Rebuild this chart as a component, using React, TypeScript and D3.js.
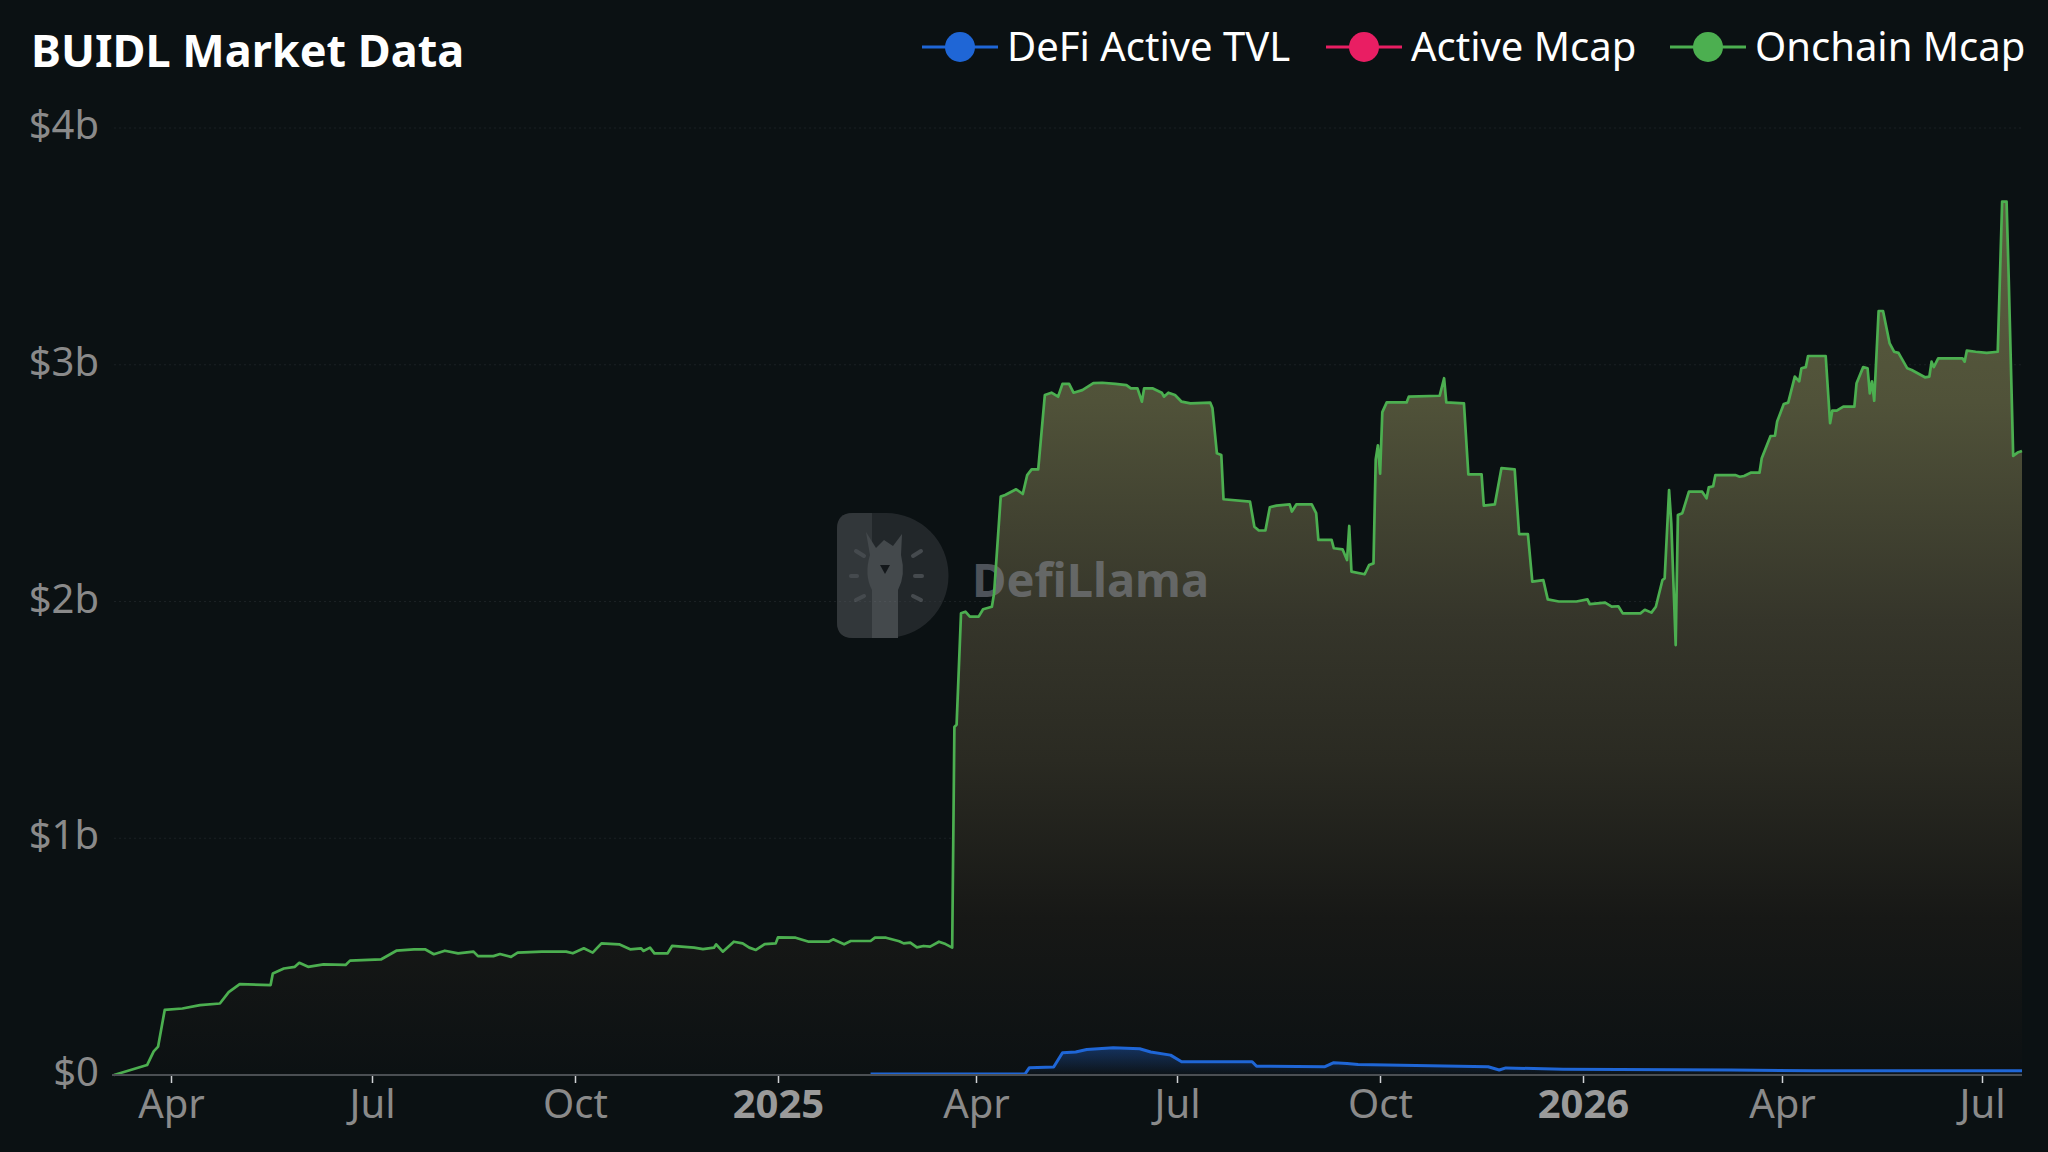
import React from 'react';
import * as d3 from 'd3';

// Onchain Mcap (BUIDL), in billions of USD
const onchainDates = [
  '2024-03-06', '2024-03-21', '2024-03-24', '2024-03-26', '2024-03-29', '2024-04-06', '2024-04-14', '2024-04-23',
  '2024-04-27', '2024-05-02', '2024-05-16', '2024-05-17', '2024-05-22', '2024-05-27', '2024-05-29', '2024-06-02',
  '2024-06-09', '2024-06-19', '2024-06-21', '2024-07-05', '2024-07-12', '2024-07-20', '2024-07-25', '2024-07-29',
  '2024-08-03', '2024-08-09', '2024-08-16', '2024-08-18', '2024-08-25', '2024-08-28', '2024-09-02', '2024-09-05',
  '2024-09-16', '2024-09-27', '2024-09-30', '2024-10-05', '2024-10-09', '2024-10-13', '2024-10-21', '2024-10-26',
  '2024-10-31', '2024-11-01', '2024-11-04', '2024-11-06', '2024-11-12', '2024-11-14', '2024-11-24', '2024-11-28',
  '2024-12-03', '2024-12-04', '2024-12-07', '2024-12-12', '2024-12-16', '2024-12-19', '2024-12-22', '2024-12-26',
  '2024-12-31', '2025-01-01', '2025-01-09', '2025-01-15', '2025-01-24', '2025-01-26', '2025-01-31', '2025-02-03',
  '2025-02-12', '2025-02-14', '2025-02-19', '2025-02-25', '2025-02-27', '2025-03-02', '2025-03-05', '2025-03-08',
  '2025-03-11', '2025-03-15', '2025-03-18', '2025-03-21', '2025-03-22', '2025-03-23', '2025-03-25', '2025-03-27',
  '2025-03-29', '2025-04-02', '2025-04-04', '2025-04-08', '2025-04-09', '2025-04-12', '2025-04-14', '2025-04-19',
  '2025-04-22', '2025-04-24', '2025-04-26', '2025-04-29', '2025-05-02', '2025-05-05', '2025-05-08', '2025-05-10',
  '2025-05-13', '2025-05-15', '2025-05-19', '2025-05-24', '2025-05-28', '2025-06-03', '2025-06-08', '2025-06-10',
  '2025-06-13', '2025-06-15', '2025-06-16', '2025-06-20', '2025-06-24', '2025-06-25', '2025-06-27', '2025-06-30',
  '2025-07-03', '2025-07-07', '2025-07-16', '2025-07-17', '2025-07-19', '2025-07-21', '2025-07-22', '2025-08-03',
  '2025-08-05', '2025-08-07', '2025-08-10', '2025-08-12', '2025-08-15', '2025-08-21', '2025-08-22', '2025-08-24',
  '2025-08-31', '2025-09-02', '2025-09-03', '2025-09-09', '2025-09-10', '2025-09-14', '2025-09-16', '2025-09-17',
  '2025-09-18', '2025-09-24', '2025-09-26', '2025-09-28', '2025-09-29', '2025-09-30', '2025-10-01', '2025-10-02',
  '2025-10-04', '2025-10-13', '2025-10-14', '2025-10-28', '2025-10-30', '2025-10-31', '2025-11-08', '2025-11-10',
  '2025-11-16', '2025-11-17', '2025-11-22', '2025-11-25', '2025-12-01', '2025-12-03', '2025-12-07', '2025-12-09',
  '2025-12-14', '2025-12-16', '2025-12-21', '2025-12-29', '2026-01-03', '2026-01-04', '2026-01-11', '2026-01-14',
  '2026-01-17', '2026-01-19', '2026-01-27', '2026-01-29', '2026-02-01', '2026-02-03', '2026-02-06', '2026-02-07',
  '2026-02-09', '2026-02-10', '2026-02-12', '2026-02-13', '2026-02-15', '2026-02-18', '2026-02-24', '2026-02-26',
  '2026-02-27', '2026-03-01', '2026-03-02', '2026-03-11', '2026-03-13', '2026-03-15', '2026-03-18', '2026-03-22',
  '2026-03-23', '2026-03-27', '2026-03-29', '2026-03-30', '2026-04-02', '2026-04-04', '2026-04-07', '2026-04-09',
  '2026-04-10', '2026-04-12', '2026-04-13', '2026-04-21', '2026-04-23', '2026-04-24', '2026-04-26', '2026-04-29',
  '2026-05-04', '2026-05-05', '2026-05-08', '2026-05-10', '2026-05-11', '2026-05-12', '2026-05-13', '2026-05-15',
  '2026-05-17', '2026-05-20', '2026-05-22', '2026-05-24', '2026-05-28', '2026-05-30', '2026-06-05', '2026-06-07',
  '2026-06-08', '2026-06-09', '2026-06-11', '2026-06-22', '2026-06-23', '2026-06-24', '2026-06-28', '2026-07-03',
  '2026-07-08', '2026-07-10', '2026-07-12', '2026-07-13', '2026-07-15', '2026-07-17', '2026-07-19',
];
const onchainValues = [
  0, 0.042, 0.1, 0.12, 0.275, 0.281, 0.295, 0.302,
  0.35, 0.384, 0.38, 0.429, 0.45, 0.457, 0.474, 0.457,
  0.467, 0.465, 0.483, 0.488, 0.525, 0.531, 0.531, 0.51,
  0.525, 0.514, 0.521, 0.502, 0.502, 0.511, 0.499, 0.517,
  0.521, 0.521, 0.514, 0.535, 0.517, 0.556, 0.552, 0.531,
  0.535, 0.524, 0.538, 0.514, 0.514, 0.545, 0.538, 0.532,
  0.538, 0.552, 0.521, 0.563, 0.556, 0.538, 0.528, 0.553,
  0.556, 0.581, 0.58, 0.563, 0.563, 0.573, 0.552, 0.566,
  0.566, 0.58, 0.58, 0.565, 0.556, 0.559, 0.539, 0.545,
  0.542, 0.563, 0.553, 0.538, 1.47, 1.48, 1.95, 1.957,
  1.936, 1.936, 1.967, 1.978, 2.035, 2.443, 2.45, 2.474,
  2.454, 2.534, 2.558, 2.558, 2.872, 2.882, 2.865, 2.919,
  2.919, 2.882, 2.893, 2.922, 2.924, 2.919, 2.914, 2.9,
  2.9, 2.844, 2.9, 2.9, 2.882, 2.865, 2.882, 2.872,
  2.844, 2.837, 2.84, 2.816, 2.626, 2.619, 2.432, 2.422,
  2.316, 2.3, 2.3, 2.398, 2.405, 2.41, 2.38, 2.41,
  2.41, 2.373, 2.26, 2.26, 2.225, 2.22, 2.175, 2.319,
  2.126, 2.115, 2.154, 2.161, 2.6, 2.66, 2.54, 2.8,
  2.841, 2.841, 2.865, 2.869, 2.943, 2.841, 2.837, 2.537,
  2.537, 2.405, 2.41, 2.563, 2.558, 2.285, 2.285, 2.084,
  2.09, 2.009, 2.0, 2.0, 2.009, 1.989, 1.995, 1.978,
  1.98, 1.95, 1.95, 1.965, 1.953, 1.978, 2.091, 2.098,
  2.471, 2.33, 1.816, 2.365, 2.373, 2.464, 2.464, 2.436,
  2.482, 2.487, 2.534, 2.534, 2.527, 2.53, 2.544, 2.544,
  2.605, 2.699, 2.7, 2.76, 2.834, 2.84, 2.95, 2.93,
  2.985, 2.99, 3.037, 3.037, 2.753, 2.806, 2.806, 2.823,
  2.823, 2.922, 2.99, 2.985, 2.879, 2.93, 2.848, 3.227,
  3.227, 3.09, 3.055, 3.05, 2.985, 2.978, 2.947, 2.95,
  3.013, 2.99, 3.027, 3.027, 3.013, 3.06, 3.055, 3.05,
  3.055, 3.689, 3.689, 3.358, 2.615, 2.629, 2.636,
];

// DeFi Active TVL, in billions of USD
const tvlDates = [
  '2025-02-12', '2025-04-23', '2025-04-25', '2025-05-06', '2025-05-10', '2025-05-16', '2025-05-21', '2025-06-02',
  '2025-06-14', '2025-06-19', '2025-06-28', '2025-07-03', '2025-08-04', '2025-08-06', '2025-09-06', '2025-09-10',
  '2025-09-16', '2025-09-21', '2025-11-19', '2025-11-24', '2025-11-27', '2025-12-23', '2026-03-09', '2026-04-16',
  '2026-07-19',
];
const tvlValues = [
  0.004, 0.004, 0.031, 0.034, 0.094, 0.097, 0.108, 0.115,
  0.111, 0.097, 0.084, 0.056, 0.056, 0.037, 0.035, 0.052,
  0.049, 0.044, 0.035, 0.021, 0.03, 0.024, 0.021, 0.018,
  0.018,
];

const yTicks = [0, 1, 2, 3, 4];
const yTickLabels = ['$0', '$1b', '$2b', '$3b', '$4b'];

const xTickDates = [
  '2024-04-01', '2024-07-01', '2024-10-01', '2025-01-01', '2025-04-01',
  '2025-07-01', '2025-10-01', '2026-01-01', '2026-04-01', '2026-07-01',
];
const xTickLabels = ['Apr', 'Jul', 'Oct', '2025', 'Apr', 'Jul', 'Oct', '2026', 'Apr', 'Jul'];

const legendNames = ['DeFi Active TVL', 'Active Mcap', 'Onchain Mcap'];
const legendColors = ['#1f66d6', '#e91e63', '#4caf50'];

const FONT = '"Noto Sans", "Open Sans", sans-serif';
const BG = '#0b1113';

const parse = d3.utcParse('%Y-%m-%d');

interface Point {
  date: Date;
  value: number;
}

const toPoints = (dates: string[], values: number[]): Point[] =>
  dates.map((d, i) => ({ date: parse(d) as Date, value: values[i] }));

const App: React.FC = () => {
  const width = 2048;
  const height = 1152;

  const onchain = toPoints(onchainDates, onchainValues);
  const tvl = toPoints(tvlDates, tvlValues);

  const x = d3.scaleUtc()
    .domain([parse('2024-03-06') as Date, parse('2026-07-19') as Date])
    .range([114, 2022]);

  const y = d3.scaleLinear()
    .domain([0, 4])
    .range([1075, 128]);

  const line = d3.line<Point>()
    .x(d => x(d.date))
    .y(d => y(d.value));

  const area = d3.area<Point>()
    .x(d => x(d.date))
    .y0(y(0))
    .y1(d => y(d.value));

  const peak = d3.max(onchainValues) || 0;

  const legendX = [960, 1364, 1708];

  return (
    <div style={{ position: 'fixed', left: 0, top: 0, width, height, background: BG }}>
      <svg width={width} height={height} style={{ display: 'block' }}>
        <defs>
          <linearGradient id="onchainFill" gradientUnits="userSpaceOnUse" x1={0} x2={0} y1={y(peak)} y2={y(0)}>
            <stop offset="0" stopColor="#5b5d3f" />
            <stop offset="0.23" stopColor="#505239" />
            <stop offset="0.48" stopColor="#35352a" />
            <stop offset="0.64" stopColor="#2a2a22" />
            <stop offset="0.82" stopColor="#171816" />
            <stop offset="1" stopColor="#0c1113" />
          </linearGradient>
          <linearGradient id="tvlFill" gradientUnits="userSpaceOnUse" x1={0} x2={0} y1={y(0.12)} y2={y(0)}>
            <stop offset="0" stopColor="#1f66d6" stopOpacity={0.4} />
            <stop offset="1" stopColor="#1f66d6" stopOpacity={0.02} />
          </linearGradient>
        </defs>

        <rect x={0} y={0} width={width} height={height} fill={BG} />

        {/* grid lines */}
        {yTicks.filter(t => t > 0).map(t => (
          <line key={t} x1={114} x2={2022} y1={y(t)} y2={y(t)}
            stroke="#1b2124" strokeWidth={1} strokeDasharray="2,3" />
        ))}

        {/* onchain mcap area */}
        <path d={area(onchain) || ''} fill="url(#onchainFill)" />

        {/* watermark */}
        <g opacity={0.5}>
          <path d="M 853 513 L 886 513 A 62 62 0 0 1 886 638 L 853 638 Q 837 638 837 622 L 837 529 Q 837 513 853 513 Z"
            fill="#3a3e42" />
          <path d="M 853 513 L 872 513 L 872 638 L 853 638 Q 837 638 837 622 L 837 529 Q 837 513 853 513 Z"
            fill="#5a5e62" />
          <path d="M 866 532 L 876 548 L 884 540 L 893 546 L 902 534 L 901 555 Q 906 575 898 590 L 898 638 L 872 638 L 872 590 Q 864 575 870 555 Z"
            fill="#7d8186" />
          <path d="M 880 565 L 890 565 L 885 574 Z" fill="#1d2023" />
          {[[856, 551, 864, 556], [851, 576, 857, 576], [856, 600, 864, 596], [913, 556, 921, 551], [915, 576, 922, 576], [913, 596, 921, 600]].map((s, i) => (
            <line key={i} x1={s[0]} y1={s[1]} x2={s[2]} y2={s[3]} stroke="#80848a" strokeWidth={4} strokeLinecap="round" />
          ))}
          <text x={972} y={597} fontFamily={FONT} fontWeight={700} fontSize={47} fill="#9094a0">DefiLlama</text>
        </g>

        {/* onchain mcap line */}
        <path d={line(onchain) || ''} fill="none" stroke="#4caf50" strokeWidth={2.7} strokeLinejoin="round" />

        {/* defi active tvl */}
        <path d={area(tvl) || ''} fill="url(#tvlFill)" />
        <path d={line(tvl) || ''} fill="none" stroke="#1f66d6" strokeWidth={3} strokeLinejoin="round" />

        {/* x axis */}
        <line x1={112} x2={2022} y1={y(0)} y2={y(0)} stroke="#4b4f53" strokeWidth={2} />
        {xTickDates.map((d, i) => {
          const px = Math.round(x(parse(d) as Date)) + 0.5;
          const isYear = /^\d{4}$/.test(xTickLabels[i]);
          return (
            <g key={d}>
              <line x1={px} x2={px} y1={y(0) + 1} y2={y(0) + 8} stroke="#d0d3d5" strokeWidth={1.5} />
              <text x={px} y={1118} textAnchor="middle" fontFamily={FONT} fontSize={40}
                fontWeight={isYear ? 700 : 400} fill={isYear ? '#9a9a9a' : '#8a8a8a'}>
                {xTickLabels[i]}
              </text>
            </g>
          );
        })}

        {/* y axis labels */}
        {yTicks.map((t, i) => (
          <text key={t} x={99} y={y(t) + 11} textAnchor="end" fontFamily={FONT} fontSize={40} fill="#8a8a8a">
            {yTickLabels[i]}
          </text>
        ))}

        {/* title */}
        <text x={31} y={67} fontFamily={FONT} fontWeight={700} fontSize={45} fill="#ffffff">BUIDL Market Data</text>

        {/* legend */}
        {legendNames.map((name, i) => (
          <g key={name}>
            <line x1={legendX[i] - 38} x2={legendX[i] + 38} y1={47} y2={47} stroke={legendColors[i]} strokeWidth={3} />
            <circle cx={legendX[i]} cy={47} r={15} fill={legendColors[i]} />
            <text x={legendX[i] + 47} y={45} dominantBaseline="central" fontFamily={FONT} fontSize={40} fill="#ffffff">
              {name}
            </text>
          </g>
        ))}
      </svg>
    </div>
  );
};

export default App;
